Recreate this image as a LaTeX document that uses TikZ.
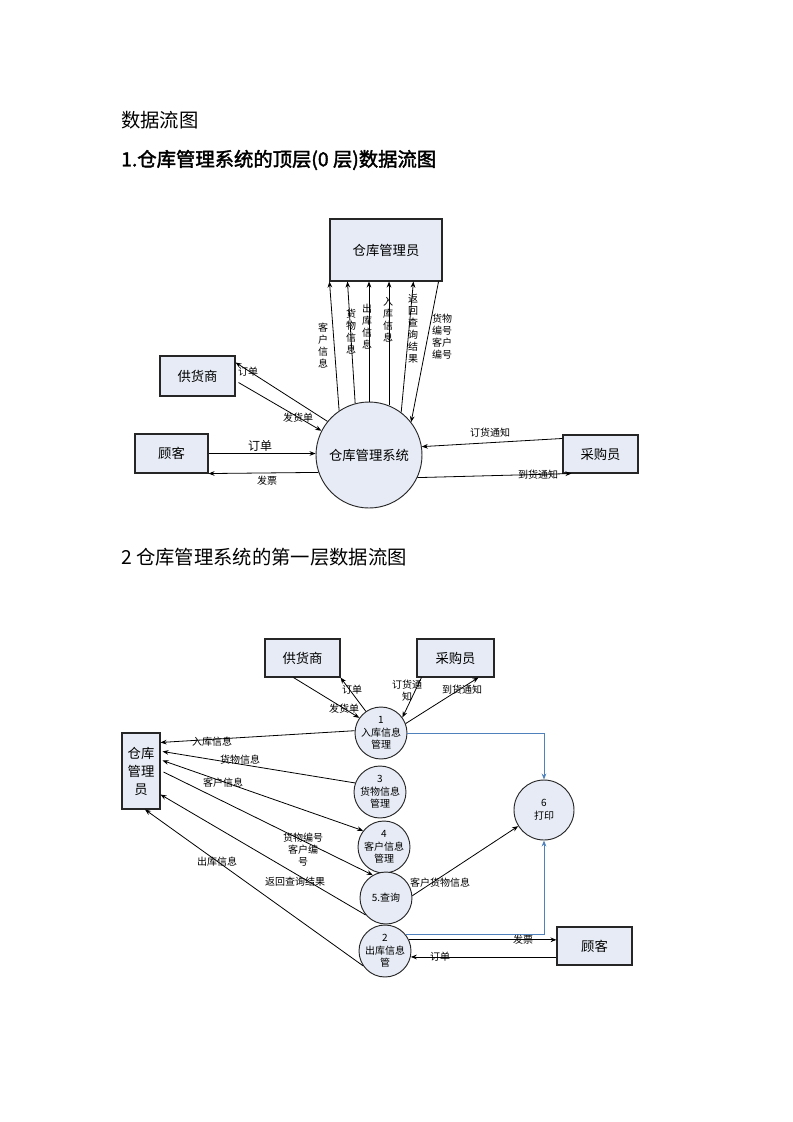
\documentclass[tikz,border=0pt]{standalone}
\usepackage{fontspec}
\setmainfont{Noto Sans CJK SC}[BoldFont={Noto Sans CJK SC},BoldFeatures={FakeBold=2}]
\usetikzlibrary{arrows.meta,calc}
\definecolor{boxfill}{RGB}{230,235,245}
\definecolor{flowblue}{RGB}{79,129,189}
\begin{document}
\begin{tikzpicture}[x=0.75pt,y=-0.75pt,
    ent/.style={draw=black!85,fill=boxfill,line width=0.8pt,inner sep=0pt,font=\fontsize{10}{12}\selectfont},
    proc/.style={draw=black!85,fill=boxfill,circle,line width=0.7pt,inner sep=-1.5pt,align=center,font=\fontsize{7.5}{9.5}\selectfont},
    lbl/.style={inner sep=0pt,align=center,font=\fontsize{7.5}{9}\selectfont},
    title/.style={anchor=west,inner sep=0pt,font=\fontsize{14.5}{15}\selectfont},
    flow/.style={line width=0.6pt,-{Stealth[length=4.5pt,width=3.5pt]}},
    blueflow/.style={flow,draw=flowblue,line width=0.7pt}]
  \useasboundingbox (0,0) rectangle (793,1122);
  \node [title] (t0) at (121,120) {数据流图};
  \node [title,font=\fontsize{14.5}{15}\selectfont\bfseries] (t1) at (121,160) {1.仓库管理系统的顶层(0 层)数据流图};
  \node [title] (t2) at (121,557) {2 仓库管理系统的第一层数据流图};
            \node [ent,minimum width=84pt,minimum height=46.5pt] (mgr) at (386,250) {仓库管理员};
          \node [proc,minimum size=79.5pt,font=\fontsize{10}{12}\selectfont] (sys) at (369,455) {仓库管理系统};
          \node [ent,minimum width=56.25pt,minimum height=30pt] (sup) at (197.5,376) {供货商};
          \node [ent,minimum width=54.75pt,minimum height=29.25pt] (cus) at (171.5,453.5) {顾客};
          \node [ent,minimum width=56.25pt,minimum height=28.5pt] (pur) at (600.5,454) {采购员};
            \draw [flow] (sys.124) -- (mgr.south west);
            \draw [flow] (sys.105) -- ($(mgr.south west)+(18,0)$);
            \draw [flow] (sys.90) -- (sys.90 |- mgr.south);
            \draw [flow] (sys.68) -- (sys.68 |- mgr.south);
            \draw [flow] (sys.53) -- ($(mgr.south west)+(84,0)$);
            \draw [flow] ($(mgr.south east)+(-4,0)$) -- (sys.38);
            \draw [flow] (sys.141) -- ($(sup.north east)+(0,7)$);
            \draw [flow] ($(sup.south east)+(3,-14)$) -- (sys.153);
            \draw [flow] (cus.east) -- (sys.west |- cus.east);
            \draw [flow] (sys.199) -- (cus.south east);
            \draw [flow] ($(pur.north west)+(0,4)$) -- (sys.9);
            \draw [flow] (sys.335) -- ($(pur.south west)+(9,0)$);
          \node [lbl] (k1) at (323,346) {客\\户\\信\\息};
          \node [lbl] (k2) at (351,332) {货\\物\\信\\息};
          \node [lbl] (k3) at (367,327) {出\\库\\信\\息};
          \node [lbl] (k4) at (388,320) {入\\库\\信\\息};
          \node [lbl] (k5) at (413,329) {返\\回\\查\\询\\结\\果};
          \node [lbl] (k6) at (442,337) {货物\\编号\\客户\\编号};
          \node [lbl] (k7) at (248,372) {订单};
          \node [lbl] (k8) at (298,418) {发货单};
          \node [lbl,font=\fontsize{9}{10}\selectfont] (k9) at (260,446) {订单};
          \node [lbl] (k10) at (267,481) {发票};
          \node [lbl] (k11) at (490,433) {订货通知};
          \node [lbl] (k12) at (538,475) {到货通知};
            \node [ent,minimum width=56.25pt,minimum height=28.5pt] (sup2) at (302.5,658) {供货商};
          \node [ent,minimum width=57.75pt,minimum height=28.5pt] (pur2) at (455.5,658) {采购员};
          \node [ent,minimum width=28.5pt,minimum height=57pt,align=center,font=\fontsize{10}{13.5}\selectfont] (mgr2) at (141,771) {仓库\\管理\\员};
          \node [proc,minimum size=39pt] (c1) at (381,733) {1\\入库信息\\管理};
          \node [proc,minimum size=39pt] (c3) at (380,792) {3\\货物信息\\管理};
          \node [proc,minimum size=39pt] (c4) at (384,847) {4\\客户信息\\管理};
          \node [proc,minimum size=39pt] (c5) at (386,898) {5.查询};
          \node [proc,minimum size=39pt] (c2) at (385,951) {2\\出库信息\\管};
          \node [proc,minimum size=45pt] (c6) at (544,810) {6\\打印};
          \node [ent,minimum width=56.25pt,minimum height=28.5pt] (cus2) at (594.5,946) {顾客};
            \draw [flow] (c1.125) -- (sup2.south east);
            \draw [flow] ($(sup2.south)+(-9,0)$) -- (c1.145);
            \draw [flow] ($(pur2.south west)+(5,0)$) -- (c1.36);
            \draw [flow] (c1.21) -- ($(pur2.south west)+(62,0)$);
            \draw [flow] (c1.175) -- ($(mgr2.north east)+(0,10)$);
            \draw [flow] (c3.160) -- ($(mgr2.north east)+(2,19)$);
            \draw [flow,{Stealth[length=4.5pt,width=3.5pt]}-{Stealth[length=4.5pt,width=3.5pt]}] ($(mgr2.north east)+(2,28)$) -- (c4.142);
            \draw [flow] ($(mgr2.east)+(3,1)$) -- (c5.120);
            \draw [flow] (c5.220) -- ($(mgr2.south east)+(0,-15)$);
            \draw [flow] (c2.214) -- ($(mgr2.south)+(4,0)$);
            \draw [flow] (c5.5) -- (c6.212);
            \draw [blueflow] (c1.east) -| (c6.north);
            \draw [blueflow] (c2.38) -| (c6.south);
            \draw [flow] (c2.25) -- (c2.25 -| cus2.west);
            \draw [flow] (c2.347 -| cus2.west) -- (c2.347);
          \node [lbl] (m1) at (352,690) {订单};
          \node [lbl] (m2) at (344,709) {发货单};
          \node [lbl] (m3) at (407,691) {订货通\\知};
          \node [lbl] (m4) at (462,690) {到货通知};
          \node [lbl] (m5) at (212,742) {入库信息};
          \node [lbl] (m6) at (240,760) {货物信息};
          \node [lbl] (m7) at (223,783) {客户信息};
          \node [lbl] (m8) at (303,850) {货物编号\\客户编\\号};
          \node [lbl] (m9) at (217,862) {出库信息};
          \node [lbl] (m10) at (295,882) {返回查询结果};
          \node [lbl] (m11) at (440,883) {客户货物信息};
          \node [lbl] (m12) at (523,940) {发票};
          \node [lbl] (m13) at (440,957) {订单};
\end{tikzpicture}
\end{document}
